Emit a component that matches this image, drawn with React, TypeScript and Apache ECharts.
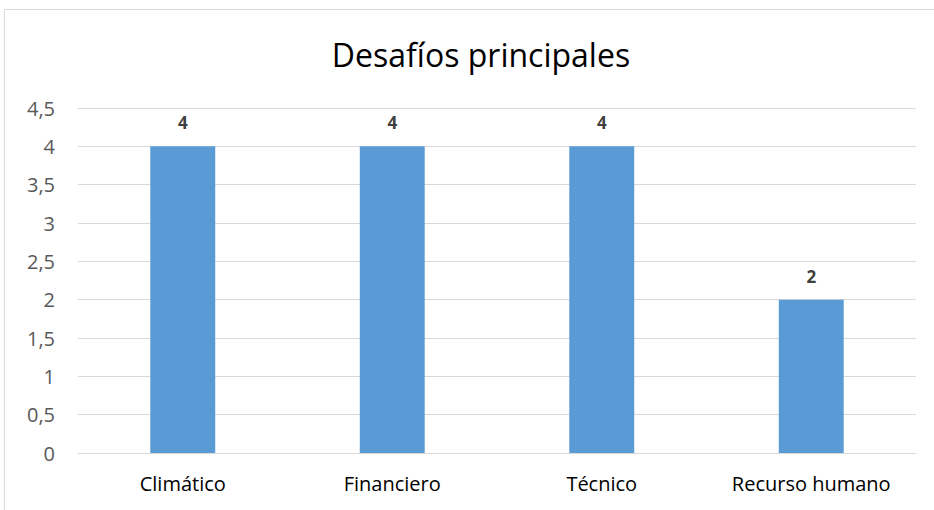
import React, { useEffect, useRef } from "react";
import * as echarts from "echarts";

const categories = ["Climático", "Financiero", "Técnico", "Recurso humano"];
const values = [4, 4, 4, 2];
const title = "Desafíos principales";

export default function App() {
  const ref = useRef<HTMLDivElement>(null);
  useEffect(() => {
    if (!ref.current) return;
    const chart = echarts.init(ref.current, null, { renderer: "svg" });
    const font = "Open Sans";
    chart.setOption({
      animation: false,
      backgroundColor: "#ffffff",
      textStyle: { fontFamily: font },
      title: {
        text: title,
        top: 33,
        left: 476,
        textAlign: "center",
        textStyle: { fontFamily: font, fontSize: 32, fontWeight: "normal", color: "#000000" },
      },
      graphic: [
        {
          type: "rect",
          shape: { x: 4.5, y: 9.5, width: 940, height: 520 },
          style: { fill: "none", stroke: "#d9d9d9", lineWidth: 1 },
          silent: true,
        },
      ],
      grid: { left: 78, right: 18, top: 108, bottom: 57, containLabel: false },
      xAxis: {
        type: "category",
        data: categories,
        axisLine: { show: true, lineStyle: { color: "#d9d9d9", width: 1 } },
        axisTick: { show: false },
        axisLabel: { color: "#000000", fontSize: 20, fontFamily: font, margin: 20 },
      },
      yAxis: {
        type: "value",
        min: 0,
        max: 4.5,
        interval: 0.5,
        axisLine: { show: false },
        axisTick: { show: false },
        splitLine: { lineStyle: { color: "#d9d9d9", width: 1 } },
        axisLabel: {
          color: "#595959",
          fontSize: 20,
          fontFamily: font,
          margin: 23,
          formatter: (v: number) => String(v).replace(".", ","),
        },
      },
      series: [
        {
          type: "bar",
          data: values,
          barWidth: "31%",
          itemStyle: { color: "#5b9bd5" },
          label: {
            show: true,
            position: "top",
            distance: 15,
            color: "#404040",
            fontSize: 17,
            fontWeight: "bold",
            fontFamily: font,
          },
        },
      ],
    });
    return () => chart.dispose();
  }, []);
  return (
    <div
      ref={ref}
      style={{ position: "fixed", left: 0, top: 0, width: 934, height: 510 }}
    />
  );
}
